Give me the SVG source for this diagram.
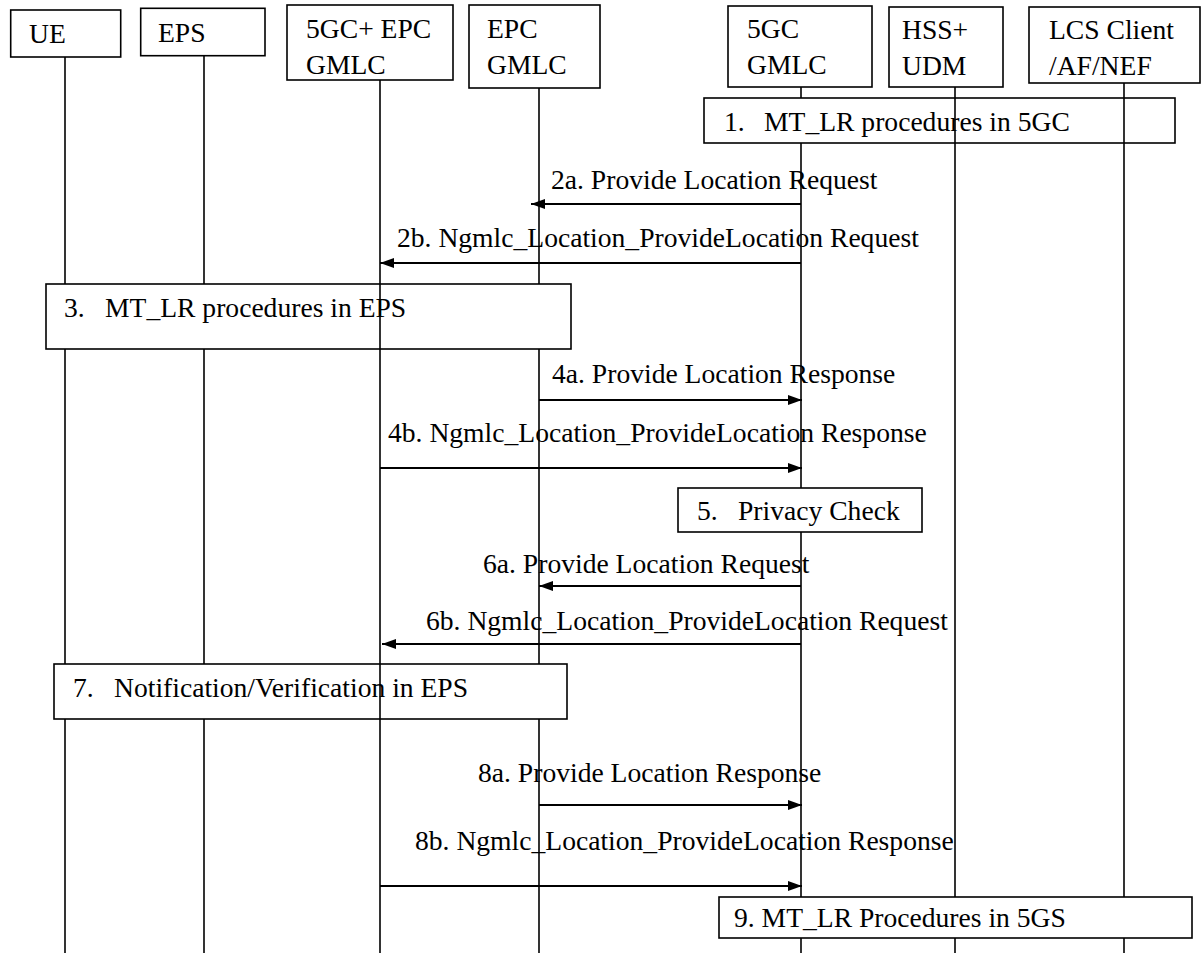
<svg xmlns="http://www.w3.org/2000/svg" width="1204" height="953" viewBox="0 0 1204 953">
<style>
text{font-family:"Liberation Serif","Times New Roman",serif;font-size:27.6px;fill:#000}
.box{fill:#fff;stroke:#000;stroke-width:1.6}
.life{stroke:#000;stroke-width:1.6;fill:none}
.msg{stroke:#000;stroke-width:2;fill:none;marker-end:url(#ah)}
</style>
<defs>
<marker id="ah" markerUnits="userSpaceOnUse" markerWidth="14" markerHeight="10" refX="14" refY="5" orient="auto">
<path d="M0,0 L14,5 L0,10 z" fill="#000"/>
</marker>
</defs>
<rect width="1204" height="953" fill="#fff"/>

<g id="lifelines-under">
<line class="life" x1="65" y1="57" x2="65" y2="953"/>
<line class="life" x1="204" y1="55.7" x2="204" y2="953"/>
<line class="life" x1="539" y1="88" x2="539" y2="953"/>
<line class="life" x1="801" y1="87" x2="801" y2="953"/>
<line class="life" x1="955" y1="87" x2="955" y2="953"/>
<line class="life" x1="1124" y1="83" x2="1124" y2="953"/>
</g>

<g id="n-ue"><rect class="box" x="10.7" y="10" width="110" height="47"/><text x="29" y="43">UE</text></g>
<g id="n-eps"><rect class="box" x="140.7" y="8.3" width="124.3" height="47.4"/><text x="158" y="42">EPS</text></g>
<g id="n-5gcepc"><rect class="box" x="287" y="5" width="166" height="75"/><text x="306" y="38">5GC+ EPC</text><text x="306" y="74">GMLC</text></g>
<g id="n-epc"><rect class="box" x="469" y="5" width="131" height="83"/><text x="487" y="38">EPC</text><text x="487" y="74">GMLC</text></g>
<g id="n-5gc"><rect class="box" x="728" y="6" width="144" height="81"/><text x="747" y="38">5GC</text><text x="747" y="74">GMLC</text></g>
<g id="n-hss"><rect class="box" x="889" y="7" width="114" height="80"/><text x="902" y="39">HSS+</text><text x="902" y="75">UDM</text></g>
<g id="n-lcs"><rect class="box" x="1029" y="7" width="171" height="76"/><text x="1049" y="39">LCS Client</text><text x="1049" y="75">/AF/NEF</text></g>

<g id="s1"><rect class="box" x="704" y="98" width="471" height="45"/><text x="724" y="131">1.</text><text x="764" y="131">MT_LR procedures in 5GC</text></g>
<g id="s3"><rect class="box" x="46" y="284" width="525" height="65"/><text x="64" y="317">3.</text><text x="105" y="317">MT_LR procedures in EPS</text></g>
<g id="s5"><rect class="box" x="678" y="488" width="244" height="44"/><text x="697" y="520">5.</text><text x="738" y="520">Privacy Check</text></g>
<g id="s7"><rect class="box" x="54" y="664" width="513" height="55"/><text x="73" y="697">7.</text><text x="114" y="697">Notification/Verification in EPS</text></g>
<g id="s9"><rect class="box" x="719" y="897" width="473" height="41"/><text x="734" y="927">9. MT_LR Procedures in 5GS</text></g>

<g id="lifelines-over">
<line class="life" x1="380" y1="80" x2="380" y2="953"/>
<line class="life" x1="955" y1="98" x2="955" y2="143"/>
<line class="life" x1="1124" y1="98" x2="1124" y2="143"/>
</g>

<g id="connectors">
<line class="msg" x1="801" y1="204" x2="531" y2="204"/>
<line class="msg" x1="801" y1="263" x2="380" y2="263"/>
<line class="msg" x1="539" y1="400" x2="802" y2="400"/>
<line class="msg" x1="380" y1="468" x2="802" y2="468"/>
<line class="msg" x1="801" y1="586" x2="539" y2="586"/>
<line class="msg" x1="801" y1="644" x2="382" y2="644"/>
<line class="msg" x1="539" y1="805" x2="802" y2="805"/>
<line class="msg" x1="380" y1="886" x2="802" y2="886"/>
</g>

<g id="labels">
<text x="551" y="189">2a. Provide Location Request</text>
<text x="397" y="247">2b. Ngmlc_Location_ProvideLocation Request</text>
<text x="552" y="383">4a. Provide Location Response</text>
<text x="388" y="442">4b. Ngmlc_Location_ProvideLocation Response</text>
<text x="483" y="573">6a. Provide Location Request</text>
<text x="426" y="630">6b. Ngmlc_Location_ProvideLocation Request</text>
<text x="478" y="782">8a. Provide Location Response</text>
<text x="415" y="850">8b. Ngmlc_Location_ProvideLocation Response</text>
</g>
</svg>
